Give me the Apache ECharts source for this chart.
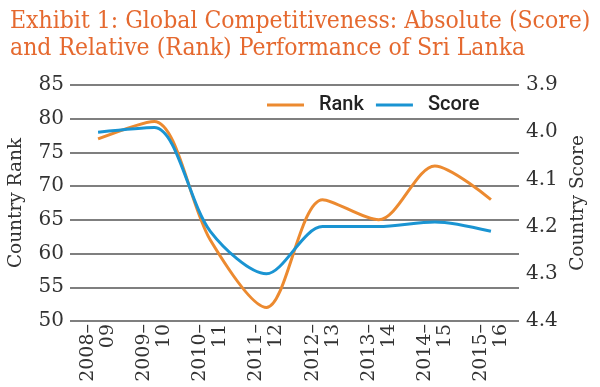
<!DOCTYPE html>
<html>
<head>
<meta charset="utf-8">
<script src="https://cdn.jsdelivr.net/npm/echarts@6/dist/echarts.min.js"></script>
<style>html,body{margin:0;padding:0;background:#fff;}#c{width:600px;height:387px;}</style>
</head>
<body>
<div id="c"></div>
<script>
var categories = ['2008–\n09', '2009–\n10', '2010–\n11', '2011–\n12', '2012–\n13', '2013–\n14', '2014–\n15', '2015–\n16'];
var rankValues = [77, 79.6, 62, 52, 68, 65, 73, 68];
var scoreValues = [4.00, 3.99, 4.21, 4.30, 4.20, 4.20, 4.19, 4.21];
var rankTicks = [50, 55, 60, 65, 70, 75, 80, 85];
var scoreTicks = [3.9, 4.0, 4.1, 4.2, 4.3, 4.4];

var serif = '"DejaVu Serif", serif';
var serifCond = '"DejaVu Serif Condensed", "DejaVu Serif", serif';
var chart = echarts.init(document.getElementById('c'));
chart.setOption({
  animation: false,
  backgroundColor: '#fff',
  title: {
    text: 'Exhibit 1: Global Competitiveness: Absolute (Score)\nand Relative (Rank) Performance of Sri Lanka',
    left: 5, top: 3,
    textStyle: { fontFamily: serifCond, fontSize: 24.5, fontWeight: 'normal', color: '#E5692F', lineHeight: 27 }
  },
  legend: {
    top: 90, left: 262,
    icon: 'rect', itemWidth: 37, itemHeight: 3, itemGap: 12,
    textStyle: { fontFamily: 'Roboto, sans-serif', fontSize: 20, fontWeight: 500, color: '#222', padding: [0, 0, 0, 10] },
    data: ['Rank', 'Score']
  },
  grid: { left: 70, right: 81, top: 85, bottom: 66, containLabel: false, outerBoundsMode: 'none' },
  xAxis: {
    type: 'category', data: categories, boundaryGap: true,
    axisLine: { show: false }, axisTick: { show: false },
    axisLabel: { rotate: 90, margin: 3, fontFamily: serif, fontSize: 19, color: '#333', lineHeight: 20, interval: 0 }
  },
  yAxis: [
    {
      type: 'value', min: rankTicks[0], max: rankTicks[rankTicks.length - 1], interval: 5,
      name: 'Country Rank', nameLocation: 'middle', nameGap: 44,
      nameTextStyle: { fontFamily: serif, fontSize: 18.5, color: '#333' },
      axisLine: { show: false }, axisTick: { show: false },
      axisLabel: { margin: 6, fontFamily: serif, fontSize: 20, color: '#333' },
      splitLine: { lineStyle: { color: '#555', width: 1.5 } }
    },
    {
      type: 'value', min: scoreTicks[0], max: scoreTicks[scoreTicks.length - 1], interval: 0.1, inverse: true,
      name: 'Country Score', nameLocation: 'middle', nameGap: 48, nameRotate: 90,
      nameTextStyle: { fontFamily: serif, fontSize: 18.5, color: '#333' },
      axisLine: { show: false }, axisTick: { show: false },
      axisLabel: { margin: 7, fontFamily: serif, fontSize: 20, color: '#333', formatter: function (v) { return v.toFixed(1); } },
      splitLine: { show: false }
    }
  ],
  series: [
    {
      name: 'Rank', type: 'line', yAxisIndex: 0, data: rankValues, smooth: 0.3, symbol: 'none',
      lineStyle: { color: '#EC8A30', width: 3 }, itemStyle: { color: '#EC8A30' }
    },
    {
      name: 'Score', type: 'line', yAxisIndex: 1, data: scoreValues, smooth: 0.3, symbol: 'none',
      lineStyle: { color: '#1A94D2', width: 3 }, itemStyle: { color: '#1A94D2' }
    }
  ]
});
</script>
</body>
</html>
